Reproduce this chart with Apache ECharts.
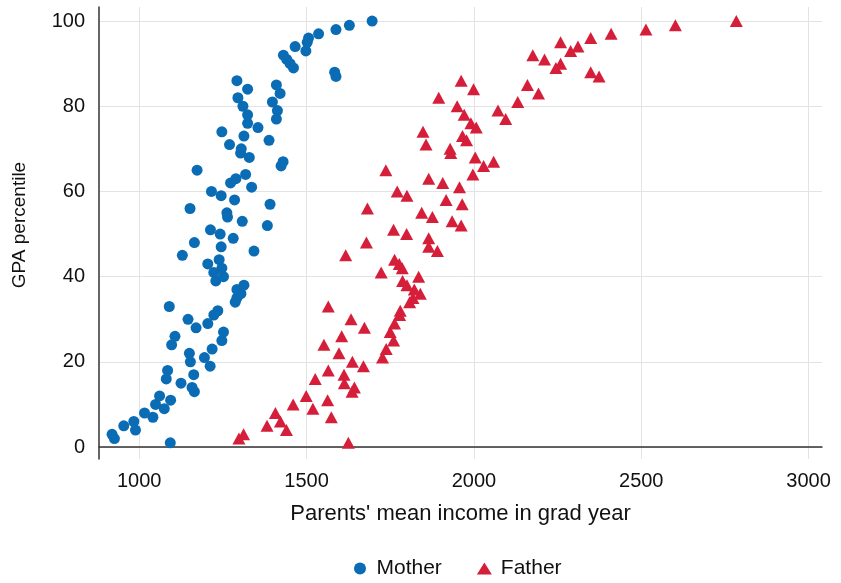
<!DOCTYPE html>
<html>
<head>
<meta charset="utf-8">
<script src="https://cdn.jsdelivr.net/npm/echarts@6/dist/echarts.min.js"></script>
<style>
  html, body { margin: 0; padding: 0; background: #fff; }
  #chart { width: 841px; height: 583px; }
</style>
</head>
<body>
<div id="chart"></div>
<script>
// GPA percentile 1..100
const percentiles = Array.from({ length: 100 }, (_, i) => i + 1)

// mother's mean income, indexed by percentile 1..100
const motherIncome = [
  1093, 926, 919, 989, 954, 984, 1041, 1016, 1075, 1049,
  1094, 1061, 1165, 1158, 1125, 1081, 1163, 1085, 1212, 1153,
  1195, 1150, 1218, 1097, 1247, 1107, 1252, 1170, 1205, 1146,
  1223, 1235, 1090, 1287, 1292, 1304, 1292, 1313, 1229, 1252,
  1223, 1247, 1205, 1239, 1129, 1343, 1245, 1165, 1281, 1242,
  1213, 1383, 1308, 1264, 1262, 1152, 1391, 1285, 1245, 1216,
  1336, 1273, 1289, 1318, 1173, 1424, 1430, 1329, 1303, 1305,
  1270, 1388, 1313, 1247, 1355, 1324, 1410, 1324, 1413, 1310,
  1398, 1295, 1421, 1324, 1410, 1292, 1588, 1584, 1461, 1451,
  1441, 1431, 1498, 1466, 1502, 1506, 1536, 1588, 1628, 1696
]

// father's mean income, indexed by percentile 1..100
const fatherIncome = [
  1625, 1298, 1312, 1440, 1382, 1422, 1574, 1407, 1519, 1460,
  1563, 1499, 1636, 1643, 1613, 1526, 1612, 1565, 1670, 1637,
  1727, 1597, 1738, 1552, 1760, 1605, 1750, 1673, 1763, 1633,
  1778, 1780, 1565, 1808, 1818, 1840, 1822, 1800, 1787, 1835,
  1723, 1786, 1777, 1763, 1617, 1891, 1865, 1679, 1865, 1799,
  1760, 1962, 1935, 1876, 1844, 1682, 1965, 1917, 1800, 1771,
  1957, 1907, 1865, 1997, 1737, 2029, 2059, 2004, 1931, 1929,
  1857, 1978, 1966, 1848, 2007, 1991, 2095, 1971, 2072, 1950,
  2131, 1895, 2193, 1999, 2160, 1962, 2374, 2349, 2245, 2259,
  2211, 2176, 2289, 2311, 2259, 2349, 2410, 2514, 2602, 2784
]

const seriesNames = ['Mother', 'Father']
const xTitle = "Parents' mean income in grad year"
const yTitle = 'GPA percentile'

const chart = echarts.init(document.getElementById('chart'))
const fontFamily = '"Liberation Sans", Arial, sans-serif'

const option = {
  animation: false,
  backgroundColor: '#fff',
  textStyle: { fontFamily: fontFamily },
  grid: {
    left: 99,
    right: 19,
    top: 7,
    bottom: 124
  },
  xAxis: {
    type: 'value',
    min: 880,
    max: 3040,
    name: xTitle,
    nameLocation: 'middle',
    nameGap: 44,
    nameTextStyle: { fontSize: 22, color: '#111', fontFamily: fontFamily },
    axisLine: { show: true, lineStyle: { color: '#333', width: 1.5 } },
    axisTick: { show: false },
    axisLabel: {
      fontSize: 20, color: '#111', margin: 12,
      showMinLabel: false, showMaxLabel: false,
      formatter: v => String(v)
    },
    splitLine: {
      show: true, showMinLine: false, showMaxLine: false,
      lineStyle: { color: '#e3e3e3', width: 1 }
    }
  },
  yAxis: {
    type: 'value',
    min: -2.8,
    max: 103.3,
    name: yTitle,
    nameLocation: 'middle',
    nameGap: 70,
    nameTextStyle: { fontSize: 19, color: '#111', fontFamily: fontFamily, padding: [0, 0, 0, 16] },
    axisLine: { show: true, lineStyle: { color: '#333', width: 1.5 } },
    axisTick: { show: false },
    axisLabel: {
      fontSize: 20, color: '#111', margin: 14,
      showMinLabel: false, showMaxLabel: false,
      formatter: v => String(v)
    },
    splitLine: {
      show: true, showMinLine: false, showMaxLine: false,
      lineStyle: { color: '#e3e3e3', width: 1 }
    }
  },
  legend: {
    data: seriesNames,
    left: 349,
    top: 553,
    itemWidth: 15,
    itemHeight: 12,
    itemGap: 35,
    textStyle: { fontSize: 21, color: '#111', padding: [0, 0, 0, 4] }
  },
  series: [
    {
      name: seriesNames[0],
      type: 'scatter',
      symbol: 'circle',
      symbolSize: 11,
      itemStyle: { color: '#0a6cb4', opacity: 1 },
      data: motherIncome.map((v, i) => [v, percentiles[i]])
    },
    {
      name: seriesNames[1],
      type: 'scatter',
      symbol: 'triangle',
      symbolSize: [13, 12],
      itemStyle: { color: '#d51f3a', opacity: 1 },
      data: fatherIncome.map((v, i) => [v, percentiles[i]])
    }
  ]
}

chart.setOption(option)
</script>
</body>
</html>
